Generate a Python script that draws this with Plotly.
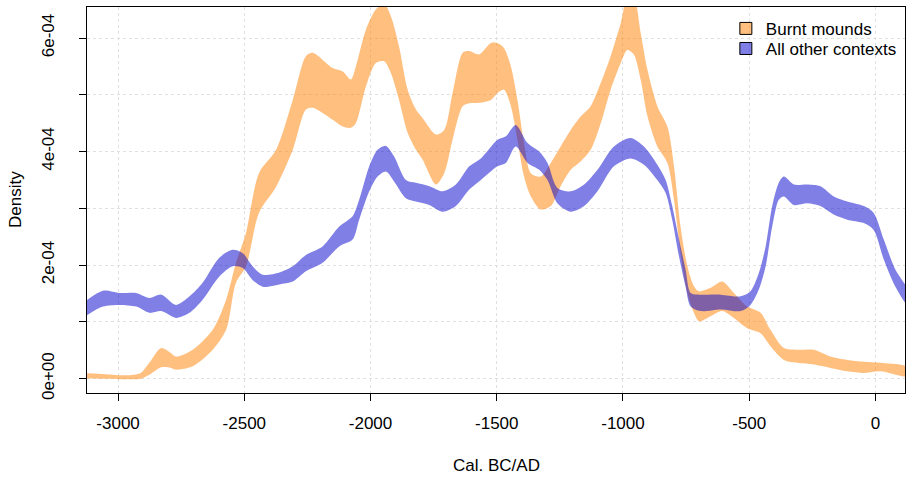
import numpy as np
import plotly.graph_objects as go

# ---- Data (density values in units of 1e-4) ----
burnt_x = [-3140, -3050, -2960, -2910, -2876, -2829, -2790, -2770, -2704, -2625, -2572, -2533,
           -2493, -2442, -2374, -2308, -2256, -2229, -2150, -2110, -2078, -2058, -2018, -1979,
           -1946, -1919, -1887, -1853, -1820, -1794, -1741, -1708, -1675, -1635, -1609, -1570,
           -1523, -1497, -1471, -1444, -1418, -1392, -1365, -1326, -1286, -1247, -1207, -1167,
           -1128, -1088, -1049, -1009, -983, -957, -930, -903, -864, -824, -798, -772, -745,
           -719, -699, -653, -607, -561, -508, -455, -416, -363, -310, -244, -178, -112, -46,
           20, 130]
burnt_hi = [0.10, 0.08, 0.06, 0.10, 0.28, 0.54, 0.45, 0.39, 0.51, 0.86, 1.39, 2.04,
            2.57, 3.62, 4.03, 4.91, 5.68, 5.74, 5.47, 5.41, 5.27, 5.50, 6.15, 6.50,
            6.60, 6.38, 5.85, 5.09, 4.74, 4.59, 4.30, 4.38, 5.03, 5.74, 5.77, 5.71,
            5.91, 5.91, 5.82, 5.50, 4.91, 4.15, 3.62, 3.56, 3.80, 4.09, 4.38, 4.62,
            4.80, 5.21, 5.68, 6.26, 6.70, 6.70, 6.09, 5.44, 4.80, 4.44, 3.74, 2.68, 1.98,
            1.63, 1.54, 1.60, 1.71, 1.51, 1.27, 1.16, 0.86, 0.54, 0.51, 0.51, 0.39, 0.33, 0.30,
            0.28, 0.20]
burnt_lo = [0.01, 0.00, -0.01, 0.00, 0.07, 0.20, 0.19, 0.16, 0.22, 0.51, 0.86, 1.69,
            1.98, 2.92, 3.38, 4.03, 4.74, 4.77, 4.56, 4.44, 4.42, 4.50, 5.15, 5.56,
            5.59, 5.38, 4.91, 4.33, 4.03, 3.86, 3.42, 3.62, 4.21, 4.80, 4.85, 4.86,
            4.91, 5.03, 5.09, 4.80, 4.21, 3.56, 3.21, 2.98, 3.04, 3.39, 3.68, 3.83,
            4.03, 4.50, 5.09, 5.56, 5.79, 5.71, 5.27, 4.62, 4.09, 3.80, 3.15, 2.21, 1.51,
            1.16, 1.01, 1.10, 1.19, 1.07, 0.89, 0.80, 0.57, 0.33, 0.28, 0.25, 0.19, 0.13, 0.10,
            0.13, 0.04]

other_x = [-3140, -3060, -2994, -2928, -2876, -2829, -2770, -2717, -2665, -2599, -2546, -2506,
           -2467, -2427, -2361, -2308, -2256, -2190, -2124, -2071, -2045, -2005, -1972, -1939,
           -1906, -1860, -1820, -1767, -1714, -1662, -1609, -1563, -1497, -1464, -1425, -1378,
           -1332, -1299, -1260, -1207, -1154, -1101, -1036, -970, -917, -864, -831, -805, -778,
           -752, -732, -693, -613, -534, -495, -462, -435, -409, -383, -363, -323, -270, -218,
           -165, -112, -46, -7, 33, 79, 130]
other_hi = [1.33, 1.55, 1.51, 1.51, 1.42, 1.48, 1.30, 1.45, 1.69, 2.13, 2.27, 2.21,
            1.98, 1.83, 1.87, 1.98, 2.18, 2.33, 2.68, 2.86, 3.15, 3.74, 4.03, 4.10,
            3.91, 3.50, 3.45, 3.39, 3.30, 3.42, 3.74, 3.88, 4.21, 4.27, 4.47, 4.15,
            4.00, 3.80, 3.36, 3.30, 3.42, 3.68, 4.09, 4.24, 4.09, 3.77, 3.50, 3.04, 2.45,
            1.92, 1.51, 1.48, 1.48, 1.45, 1.54, 1.86, 2.33, 3.04, 3.45, 3.56, 3.42, 3.42, 3.39,
            3.21, 3.12, 3.04, 2.92, 2.45, 1.92, 1.55]
other_lo = [1.07, 1.27, 1.30, 1.27, 1.16, 1.19, 1.07, 1.16, 1.39, 1.80, 1.98, 1.95,
            1.74, 1.62, 1.66, 1.71, 1.89, 2.04, 2.33, 2.45, 2.80, 3.30, 3.56, 3.65,
            3.47, 3.18, 3.12, 3.06, 2.94, 3.04, 3.33, 3.50, 3.74, 3.80, 4.09, 3.80,
            3.68, 3.50, 3.09, 2.94, 3.04, 3.30, 3.74, 3.88, 3.77, 3.50, 3.27, 2.80, 2.15,
            1.62, 1.27, 1.19, 1.22, 1.19, 1.30, 1.57, 1.98, 2.68, 3.15, 3.21, 3.06, 3.09, 3.04,
            2.89, 2.80, 2.74, 2.62, 2.10, 1.62, 1.28]

series_names = ["Burnt mounds", "All other contexts"]
x_ticks = [-3000, -2500, -2000, -1500, -1000, -500, 0]
y_ticks = [0, 1e-4, 2e-4, 3e-4, 4e-4, 5e-4, 6e-4]
y_tick_text = ["0e+00", "", "2e-04", "", "4e-04", "", "6e-04"]

SCALE = 1e-4
FONT = "Liberation Sans, Arial, sans-serif"
c_burnt = "rgba(255,128,0,0.5)"
c_other = "rgba(0,0,205,0.5)"


def band(xs, hi, lo, color):
    xs = list(xs)
    yy = list(np.array(hi) * SCALE) + list(np.array(lo)[::-1] * SCALE)
    return go.Scatter(x=xs + xs[::-1], y=yy, fill="toself", fillcolor=color,
                      mode="lines", line=dict(width=0, color=color, shape="spline", smoothing=0.8),
                      hoverinfo="skip", showlegend=False)


fig = go.Figure()
fig.add_trace(band(burnt_x, burnt_hi, burnt_lo, c_burnt))
fig.add_trace(band(other_x, other_hi, other_lo, c_other))

for name, col, lg in zip(series_names, [c_burnt, c_other], ["legend", "legend2"]):
    fig.add_trace(go.Scatter(x=[None], y=[None], mode="markers", name=name, legend=lg,
                             marker=dict(symbol="square", size=12, color=col,
                                         line=dict(color="black", width=1))))

leg_common = dict(xanchor="left", yanchor="top", bgcolor="rgba(0,0,0,0)",
                  font=dict(size=17, family=FONT), borderwidth=0)

fig.update_layout(
    width=906, height=477,
    margin=dict(l=87, r=1, t=7, b=84, autoexpand=False),
    paper_bgcolor="white", plot_bgcolor="white",
    font=dict(family=FONT, size=17, color="black"),
    showlegend=True,
    legend=dict(x=0.781, y=0.990, **leg_common),
    legend2=dict(x=0.781, y=0.938, **leg_common),
    xaxis=dict(range=[-3123, 117], tickvals=x_ticks, ticktext=[str(v) for v in x_ticks],
               ticks="outside", ticklen=7, tickcolor="black", showline=True, mirror=True,
               linecolor="black", linewidth=1, showgrid=True, gridcolor="#e0e0e0",
               griddash="dot", gridwidth=1, zeroline=False, ticklabelstandoff=8,
               automargin=False),
    yaxis=dict(range=[-0.252e-4, 6.546e-4], tickvals=y_ticks, ticktext=y_tick_text,
               tickangle=-90, ticks="outside", ticklen=7, tickcolor="black", showline=True,
               mirror=True, linecolor="black", linewidth=1, showgrid=True, gridcolor="#e0e0e0",
               griddash="dot", gridwidth=1, zeroline=False, ticklabelstandoff=18,
               automargin=False),
    annotations=[
        dict(text="Cal. BC/AD", x=0.5, y=-0.189, xref="paper", yref="paper",
             showarrow=False, xanchor="center", yanchor="middle", font=dict(size=17)),
        dict(text="Density", x=-0.088, y=0.5, xref="paper", yref="paper", textangle=-90,
             showarrow=False, xanchor="center", yanchor="middle", font=dict(size=17)),
    ],
)

fig.write_html("out.html", config={"displayModeBar": False},
               post_script="document.body.style.margin='0px';")
